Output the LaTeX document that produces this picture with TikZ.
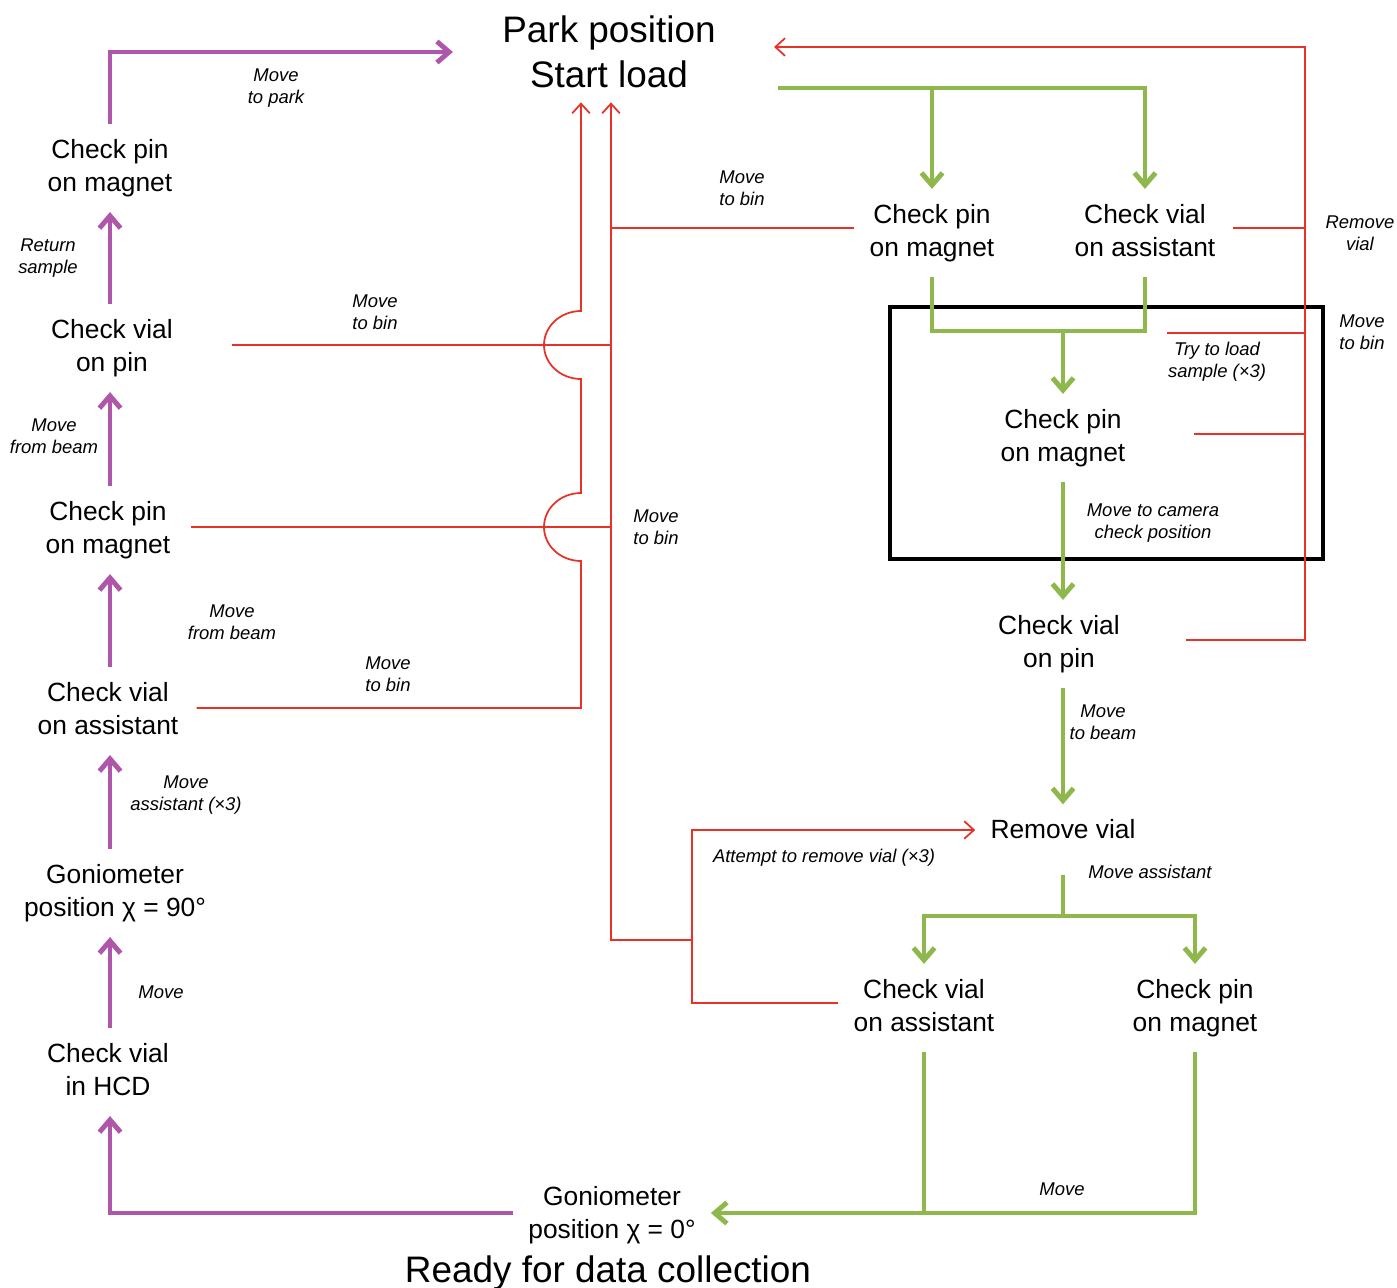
\documentclass[tikz,border=0pt]{standalone}
\usepackage{fontspec}
\setmainfont{Liberation Sans}
\usetikzlibrary{arrows.meta,calc}
\definecolor{pur}{RGB}{174,86,170}
\definecolor{grn}{RGB}{143,184,76}
\definecolor{rd}{RGB}{232,50,40}
\begin{document}
\begin{tikzpicture}[x=0.02cm,y=-0.02cm,
  box/.style={align=center,font=\fontsize{15}{18.7}\selectfont,inner sep=8.5pt,text depth=3.2pt},
  big/.style={align=center,font=\fontsize{21}{25.5}\selectfont,inner sep=8pt},
  lbl/.style={align=center,font=\fontsize{10.5}{12.5}\selectfont\itshape,inner sep=0pt},
  pline/.style={draw=pur,line width=2.8pt},
  gline/.style={draw=grn,line width=2.8pt},
  rline/.style={draw=rd,line width=1pt},
  parr/.style={-{Straight Barb[length=7pt,width=12pt]}},
  rarr/.style={-{Straight Barb[length=5.5pt,width=10pt]}},
]
\useasboundingbox (0,0) rectangle (1397,1288);

% ---------- nodes ----------
\node[big] (park) at (609,52) {Park position\\Start load};
\node[big,anchor=base,inner sep=0pt] (ready) at (608,1282) {Ready for data collection};
\node[box] (g0) at (612,1215) {Goniometer\\position χ = 0°};

\node[box] (lpm1) at (110,168) {Check pin\\on magnet};
\node[box] (lvp)  at (112,348) {Check vial\\on pin};
\node[box] (lpm2) at (108,530) {Check pin\\on magnet};
\node[box] (lva)  at (108,711) {Check vial\\on assistant};
\node[box] (lg90) at (115,893) {Goniometer\\position χ = 90°};
\node[box] (lhcd) at (108,1072) {Check vial\\in HCD};

\node[box] (tpm) at (932,233) {Check pin\\on magnet};
\node[box] (tva) at (1145,233) {Check vial\\on assistant};
\node[box] (mpm) at (1063,438) {Check pin\\on magnet};
\node[box] (mvp) at (1059,644) {Check vial\\on pin};
\node[box] (rv)  at (1063,832) {Remove vial};
\node[box] (bva) at (924,1008) {Check vial\\on assistant};
\node[box] (bpm) at (1195,1008) {Check pin\\on magnet};

% ---------- helper coordinates ----------
\coordinate (pc) at (110,0);
\coordinate (busA) at (581,0);
\coordinate (busB) at (611,0);
\coordinate (busC) at (692,0);
\coordinate (busR) at (1305,0);
\coordinate (topR) at (1305,47);
\coordinate (gs) at (778,88);
\coordinate (tj) at (1063,331);
\coordinate (tjr) at (1145,331);
\coordinate (tryst) at (1167,333);
\coordinate (rvb) at (1063,916);
\coordinate (j940) at (692,940);

% ---------- black frame ----------
\draw[line width=2.3pt] (890,307) rectangle (1323,559);

% ---------- red connectors ----------
\draw[rline,rarr] ($(lva.east)+(3,-3)$) coordinate (a1) -- (a1 -| busA) -- (581,561)
  .. controls (560.6,561) and (544,545.8) .. (544,527)
  .. controls (544,508.2) and (560.6,493) .. (581,493) -- (581,379)
  .. controls (560.6,379) and (544,363.8) .. (544,345)
  .. controls (544,326.2) and (560.6,311) .. (581,311)
  -- (park.south -| busA);
\draw[rline,rarr] (j940) -| (park.south -| busB);
\draw[rline] ($(tpm.west)+(0,-5)$) coordinate (a2) -- (a2 -| busB);
\draw[rline] ($(lvp.east)+(44,-3)$) coordinate (a3) -- (a3 -| busB);
\draw[rline] ($(lpm2.east)+(5,-3)$) coordinate (a4) -- (a4 -| busB);
\draw[rline,rarr] ($(bva.west)+(0,-5)$) -| ($(busC |- rv.west)+(0,-2)$) coordinate (a5) -- (a5 -| rv.west);

\draw[rline,rarr] ($(mvp.east)+(51,-4)$) -| (topR) -- ($(park.east |- topR)+(44,0)$);
\draw[rline] ($(tva.east)+(2,-5)$) coordinate (a6) -- (a6 -| busR);
\draw[rline] (tryst) -- (tryst -| busR);
\draw[rline] ($(mpm.east)+(53,-4)$) coordinate (a7) -- (a7 -| busR);

% ---------- purple connectors ----------
\draw[pline,parr] (lpm1.north -| pc) |- ($(park.west)+(-35,0)$);
\draw[pline,parr] (lvp.north -| pc) -- (lpm1.south -| pc);
\draw[pline,parr] (lpm2.north -| pc) -- (lvp.south -| pc);
\draw[pline,parr] (lva.north -| pc) -- (lpm2.south -| pc);
\draw[pline,parr] (lg90.north -| pc) -- (lva.south -| pc);
\draw[pline,parr] (lhcd.north -| pc) -- (lg90.south -| pc);
\draw[pline,parr] ($(g0.west)+(0,-2)$) -| (lhcd.south -| pc);

% ---------- green connectors ----------
\draw[gline,parr] (gs) -| (tva.north);
\draw[gline,parr] (gs -| tpm.north) -- (tpm.north);
\draw[gline] (tpm.south) |- (tjr) -- (tva.south);
\draw[gline,parr] (tj) -- (tj |- mpm.north);
\draw[gline,parr] (rv |- mpm.south) -- (rv |- mvp.north);
\draw[gline,parr] (rv |- mvp.south) -- (rv.north);
\draw[gline] ($(rv.south)+(0,15)$) -- (rvb);
\draw[gline,parr] (rvb) -| (bva.north);
\draw[gline,parr] (rvb) -| (bpm.north);
\draw[gline,parr] (bpm.south) |- ($(g0.east)+(0,-2)$) coordinate (a8);
\draw[gline] (bva.south) -- (bva.south |- a8);

% ---------- labels ----------
\node[lbl] (l1)  at (276,88)   {Move\\to park};
\node[lbl] (l2)  at (48,258)   {Return\\sample};
\node[lbl] (l3)  at (54,436)   {Move\\from beam};
\node[lbl] (l4)  at (375,312)  {Move\\to bin};
\node[lbl] (l5)  at (232,622)  {Move\\from beam};
\node[lbl] (l6)  at (388,674)  {Move\\to bin};
\node[lbl] (l7)  at (186,795)  {Move\\assistant (×3)};
\node[lbl] (l8)  at (161,992)  {Move};
\node[lbl] (l9)  at (742,188)  {Move\\to bin};
\node[lbl] (l10) at (656,527)  {Move\\to bin};
\node[lbl] (l11) at (1360,233) {Remove\\vial};
\node[lbl] (l12) at (1362,332) {Move\\to bin};
\node[lbl] (l13) at (1217,362) {Try to load\\sample (×3)};
\node[lbl] (l14) at (1153,523) {Move to camera\\check position};
\node[lbl] (l15) at (1103,722) {Move\\to beam};
\node[lbl] (l16) at (824,858)  {Attempt to remove vial (×3)};
\node[lbl] (l17) at (1150,872) {Move assistant};
\node[lbl] (l18) at (1062,1189) {Move};
\end{tikzpicture}
\end{document}
